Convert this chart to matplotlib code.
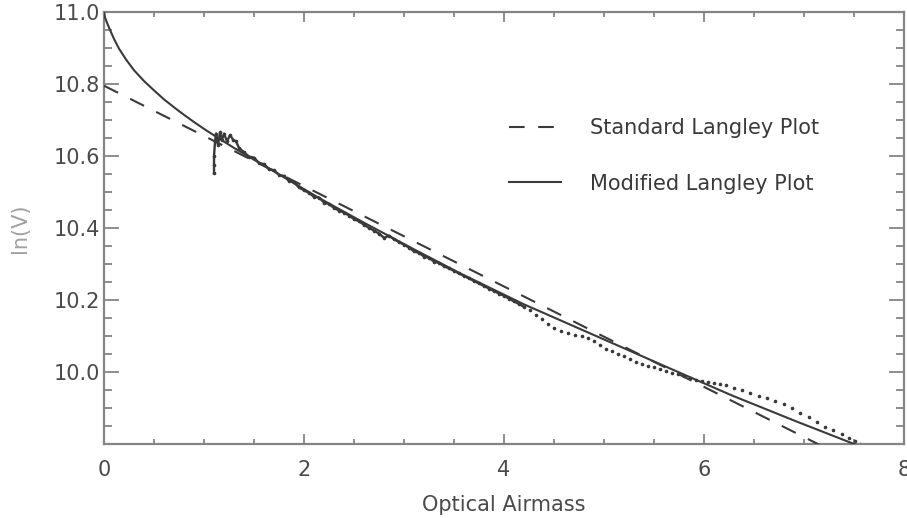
"""
Langley plot: ln(V) against optical airmass, standard vs modified fit
"""

import numpy as np
import matplotlib.pyplot as plt
from matplotlib.ticker import MultipleLocator, FixedLocator

# Modified Langley fit (solid curve)
mod_x = [0.00, 0.01, 0.03, 0.06, 0.10, 0.15, 0.22, 0.30, 0.40, 0.50, 0.60,
         0.70, 0.80, 0.90, 1.00, 1.10, 1.30, 1.60, 1.90, 2.155, 2.60, 3.10,
         3.563, 4.20, 4.97, 5.60, 6.276, 6.90, 7.58]
mod_y = [11.000, 10.985, 10.970, 10.950, 10.925, 10.898, 10.868, 10.838,
         10.808, 10.782, 10.757, 10.735, 10.714, 10.694, 10.675, 10.657,
         10.622, 10.573, 10.524, 10.482, 10.414, 10.340, 10.273, 10.187,
         10.093, 10.016, 9.934, 9.864, 9.790]

# Standard Langley fit (straight dashed line)
std_x = [0.00, 7.20]
std_y = [10.795, 9.790]

# Measured ln(V) points
meas_x = [1.10, 1.10, 1.10, 1.11, 1.12, 1.14, 1.16, 1.18, 1.20, 1.23, 1.26,
          1.29, 1.32, 1.35, 1.40, 1.45, 1.50, 1.55, 1.60, 1.65, 1.70, 1.75,
          1.80, 1.85, 1.90, 1.95, 2.00, 2.05, 2.10, 2.15, 2.20, 2.25, 2.30,
          2.35, 2.40, 2.45, 2.50, 2.55, 2.60, 2.65, 2.70, 2.75, 2.80, 2.85,
          2.90, 2.95, 3.00, 3.05, 3.10, 3.15, 3.20, 3.25, 3.30, 3.35, 3.40,
          3.45, 3.50, 3.55, 3.60, 3.65, 3.70, 3.75, 3.80, 3.85, 3.90, 3.95,
          4.00, 4.05, 4.10, 4.15, 4.20,
          4.26, 4.32, 4.38, 4.44, 4.50, 4.57, 4.64, 4.71, 4.78, 4.84, 4.90,
          4.96, 5.02, 5.08, 5.14, 5.20, 5.26, 5.32, 5.38, 5.44, 5.50, 5.56,
          5.62, 5.68, 5.74, 5.80, 5.86, 5.92, 5.98, 6.04, 6.10, 6.16, 6.22,
          6.30, 6.38, 6.46, 6.55, 6.63, 6.71, 6.80, 6.88, 6.96, 7.05, 7.13,
          7.21, 7.29, 7.38, 7.45, 7.51, 7.56]
meas_y = [10.552, 10.575, 10.600, 10.640, 10.662, 10.630, 10.665, 10.645,
          10.662, 10.640, 10.658, 10.645, 10.640, 10.622, 10.610, 10.598,
          10.595, 10.580, 10.577, 10.563, 10.560, 10.547, 10.544, 10.530,
          10.526, 10.512, 10.504, 10.497, 10.486, 10.484, 10.470, 10.466,
          10.455, 10.448, 10.442, 10.434, 10.424, 10.418, 10.408, 10.400,
          10.392, 10.384, 10.372, 10.378, 10.368, 10.360, 10.353, 10.345,
          10.334, 10.330, 10.320, 10.316, 10.306, 10.302, 10.293, 10.287,
          10.280, 10.273, 10.266, 10.259, 10.252, 10.245, 10.238, 10.231,
          10.224, 10.217, 10.211, 10.203, 10.195, 10.188, 10.180,
          10.170, 10.158, 10.146, 10.132, 10.122, 10.114, 10.108, 10.102,
          10.098, 10.094, 10.085, 10.074, 10.064, 10.056, 10.050, 10.042,
          10.034, 10.027, 10.021, 10.016, 10.012, 10.007, 10.003, 9.997,
          9.992, 9.987, 9.982, 9.978, 9.974, 9.971, 9.968, 9.966, 9.962,
          9.955, 9.948, 9.941, 9.933, 9.926, 9.919, 9.910, 9.899, 9.886,
          9.874, 9.860, 9.847, 9.837, 9.826, 9.815, 9.806, 9.800]

y_ticks = [10.0, 10.2, 10.4, 10.6, 10.8, 11.0]
x_ticks = [0, 2, 4, 6, 8]

LINE = '#3a3a3a'
AXC = '#858585'

fig = plt.figure(figsize=(9.07, 5.18), dpi=100)
ax = fig.add_axes([0.1147, 0.1438, 0.882, 0.833])

mx = np.array(meas_x)
my = np.array(meas_y)
dense = mx <= 4.2
ax.plot(mx[dense], my[dense], color=LINE, lw=1.7, zorder=2)
ax.plot(mx, my, ls='none', marker='.', ms=3.2, color=LINE, zorder=2)

ax.plot(std_x, std_y, color=LINE, lw=1.5, dashes=(7.5, 6.5),
        label='Standard Langley Plot', zorder=3)
ax.plot(mod_x, mod_y, color=LINE, lw=1.5, label='Modified Langley Plot',
        zorder=3)

ax.set_xlim(0, 8)
ax.set_ylim(9.8, 11.0)

ax.xaxis.set_major_locator(FixedLocator(x_ticks))
ax.xaxis.set_minor_locator(MultipleLocator(0.5))
ax.yaxis.set_major_locator(FixedLocator(y_ticks))
ax.yaxis.set_minor_locator(MultipleLocator(0.05))
ax.set_yticklabels([f'{v:.1f}' for v in y_ticks])

ax.tick_params(axis='both', which='both', direction='in', color=AXC,
               width=1.3, top=True, right=True, labelcolor='#4a4a4a',
               labelsize=15)
ax.tick_params(axis='x', which='major', length=7, pad=12)
ax.tick_params(axis='x', which='minor', length=3.5)
ax.tick_params(axis='y', which='major', length=11, pad=3)
ax.tick_params(axis='y', which='minor', length=6)

for sp in ax.spines.values():
    sp.set_color(AXC)
    sp.set_linewidth(1.6)

ax.set_xlabel('Optical Airmass', fontsize=15, color='#4a4a4a', labelpad=11)
ax.set_ylabel('ln(V)', fontsize=15, color='#a0a0a0', labelpad=17)

ax.legend(loc='upper left', bbox_to_anchor=(0.4825, 0.797), frameon=False,
          fontsize=15, handlelength=2.5, handletextpad=1.4,
          labelspacing=1.7, labelcolor='#3a3a3a')

fig.savefig('out.png', dpi=100)
